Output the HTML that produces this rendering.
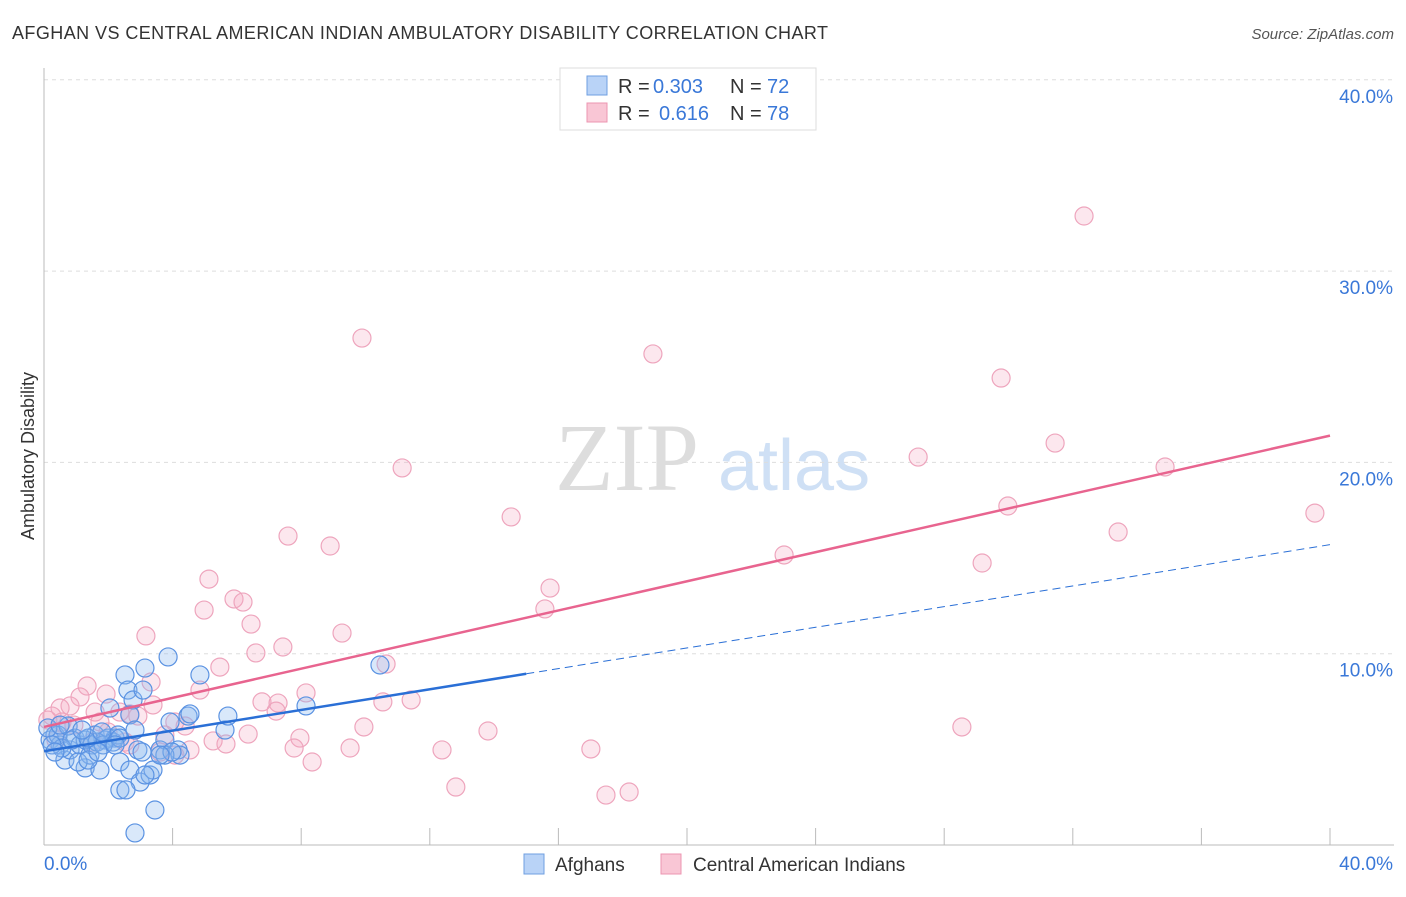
<!DOCTYPE html>
<html><head><meta charset="utf-8"><style>
body{margin:0;background:#fff;font-family:"Liberation Sans",sans-serif}
</style></head><body>
<svg id="c" width="1406" height="892" xmlns="http://www.w3.org/2000/svg">
<text x="12" y="39" font-size="18" fill="#333" textLength="816">AFGHAN VS CENTRAL AMERICAN INDIAN AMBULATORY DISABILITY CORRELATION CHART</text>
<text x="1394" y="39" font-size="15" fill="#555" font-style="italic" text-anchor="end">Source: ZipAtlas.com</text>
<text x="34" y="456" font-size="18" fill="#333" text-anchor="middle" transform="rotate(-90 34 456)">Ambulatory Disability</text>
<text x="555" y="490" font-size="96" fill="#ddd" font-family="Liberation Serif">ZIP</text>
<text x="718" y="490" font-size="72" fill="#cfe0f5">atlas</text>
<g id="grid"></g><g id="pts"></g><g id="lines"></g>
<g font-size="20">
<rect x="560" y="68" width="256" height="62" fill="#fff" stroke="#ddd"/>
<rect x="587" y="76" width="20" height="19" fill="#b9d3f7" stroke="#6f9fe0"/>
<rect x="587" y="103" width="20" height="19" fill="#f9c6d5" stroke="#ec95b1"/>
<text x="618" y="93" fill="#333">R =</text><text x="653" y="93" fill="#3a78d8">0.303</text>
<text x="730" y="93" fill="#333">N =</text><text x="767" y="93" fill="#3a78d8">72</text>
<text x="618" y="120" fill="#333">R =</text><text x="659" y="120" fill="#3a78d8">0.616</text>
<text x="730" y="120" fill="#333">N =</text><text x="767" y="120" fill="#3a78d8">78</text>
</g>
<g>
<rect x="524" y="854" width="20" height="20" fill="#b9d3f7" stroke="#6f9fe0"/>
<text x="555" y="871" font-size="19" fill="#333">Afghans</text>
<rect x="661" y="854" width="20" height="20" fill="#f9c6d5" stroke="#ec95b1"/>
<text x="693" y="871" font-size="19" fill="#333">Central American Indians</text>
</g>
</svg>
<script>
const yTicks=[10,20,30,40];
const yTickLabels=["10.0%","20.0%","30.0%","40.0%"];
const blueX=[50,55,60,65,70,75,80,85,90,95,100,105,110,115,120,125,128,130,133,138,140,143,145,150,155,135,160,165,168,170,178,180,188,190,200,225,228,306,380,153,120,126,85,92,58,62,108,113,118,97,103,68,72,48,52,78,88,145,165,172,130,120,98,88,60,55,82,135,142,102,115,160].map(p=>+((p-44)/32.15).toFixed(2));
const blueY=[740,735,745,760,750,738,745,768,755,735,770,740,708,738,762,675,690,770,700,750,782,690,668,775,810,833,750,740,657,722,750,755,716,714,675,730,716,706,665,770,790,790,740,745,735,748,738,742,735,742,745,726,740,728,745,762,760,775,755,752,715,738,752,738,725,752,730,730,752,732,745,755].map(p=>+((845-p)/19.13).toFixed(2));
const pinkX=[1084,362,653,1001,402,1055,918,1165,511,1315,288,330,1008,1118,784,982,209,550,234,243,545,204,251,146,342,283,256,386,220,151,87,200,306,106,80,70,60,95,120,153,130,138,262,278,383,411,276,52,48,62,175,185,248,300,364,488,962,213,226,294,350,591,442,190,160,175,312,456,606,629,125,108,56,74,92,165,130,100].map(p=>+((p-44)/32.15).toFixed(2));
const pinkY=[216,338,354,378,468,443,457,467,517,513,536,546,506,532,555,563,579,588,599,602,609,610,624,636,633,647,653,664,667,682,686,690,693,694,697,706,708,712,712,705,714,716,702,703,702,700,711,716,720,722,722,726,734,738,727,731,727,741,744,748,748,749,750,750,752,755,762,787,795,792,742,732,740,725,742,735,745,722].map(p=>+((845-p)/19.13).toFixed(2));
const blueTrend=[4.9,15.7], pinkTrend=[6.17,21.4], blueSolidEnd=15;
const X=v=>44+v*32.15, Y=v=>845-v*19.13;
const NS="http://www.w3.org/2000/svg";
function mk(t,a,p){const e=document.createElementNS(NS,t);for(const k in a)e.setAttribute(k,a[k]);p.appendChild(e);return e;}
const g=document.getElementById('grid');
yTicks.forEach((t,i)=>{const l=mk('line',{x1:44,x2:1394,y1:Y(t),y2:Y(t),stroke:'#ddd','stroke-dasharray':'4,4'},g);


const tx=mk('text',{x:1393,y:Y(t)+23,'font-size':19,fill:'#3a78d8','text-anchor':'end'},g);tx.textContent=yTickLabels[i];

});
mk('line',{x1:44,x2:44,y1:68,y2:845,stroke:'#bbb'},g);
mk('line',{x1:44,x2:1394,y1:845,y2:845,stroke:'#bbb'},g);
for(let i=1;i<=10;i++){mk('line',{x1:44+i*128.6,x2:44+i*128.6,y1:828,y2:845,stroke:'#bbb'},g);}
const x0=mk('text',{x:44,y:870,'font-size':19,fill:'#3a78d8'},g);x0.textContent='0.0%';


const x1=mk('text',{x:1393,y:870,'font-size':19,fill:'#3a78d8','text-anchor':'end'},g);x1.textContent='40.0%';


const P=document.getElementById('pts');
pinkX.forEach((v,i)=>{const c=mk('circle',{cx:X(v),cy:Y(pinkY[i]),r:9,fill:'rgba(246,170,195,0.28)',stroke:'#eea5bd','stroke-width':1.2},P);

});
blueX.forEach((v,i)=>{const c=mk('circle',{cx:X(v),cy:Y(blueY[i]),r:9,fill:'rgba(140,185,240,0.33)',stroke:'#5a92e2','stroke-width':1.2},P);

});
const L=document.getElementById('lines');
const bAt=x=>blueTrend[0]+(blueTrend[1]-blueTrend[0])*x/40;
let l1=mk('line',{x1:X(0),y1:Y(pinkTrend[0]),x2:X(40),y2:Y(pinkTrend[1]),stroke:'#e8648f','stroke-width':2.5},L);


let l2=mk('line',{x1:X(0),y1:Y(bAt(0)),x2:X(blueSolidEnd),y2:Y(bAt(blueSolidEnd)),stroke:'#2a6fd6','stroke-width':2.5},L);


let l3=mk('line',{x1:X(blueSolidEnd),y1:Y(bAt(blueSolidEnd)),x2:X(40),y2:Y(bAt(40)),stroke:'#2a6fd6','stroke-width':1,'stroke-dasharray':'8,5'},L);


</script>
</body></html>
